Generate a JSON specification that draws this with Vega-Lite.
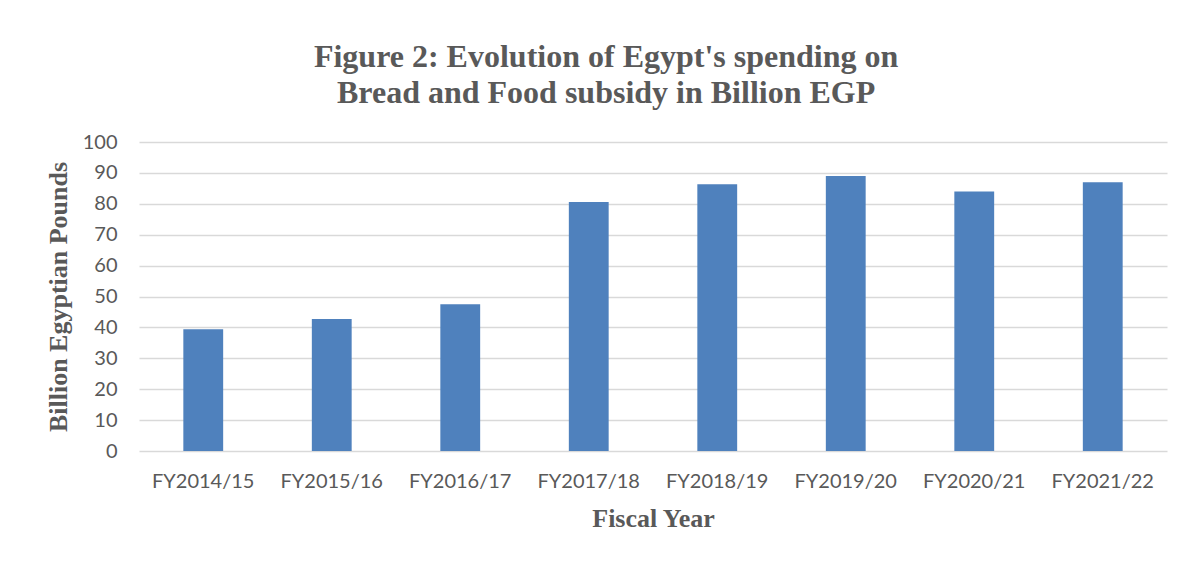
{
  "$schema": "https://vega.github.io/schema/vega-lite/v6.json",
  "width": 1028,
  "height": 309,
  "padding": {"left": 45, "top": 41, "right": 18, "bottom": 10},
  "background": "#ffffff",
  "title": {
    "text": ["Figure 2: Evolution of Egypt's spending on", "Bread and Food subsidy in Billion EGP"],
    "font": "Liberation Serif",
    "fontSize": 32,
    "fontWeight": "bold",
    "color": "#595959",
    "lineHeight": 36,
    "anchor": "middle",
    "frame": "bounds",
    "offset": 22
  },
  "data": {
    "values": [
      {"year": "FY2014/15", "value": 39.4},
      {"year": "FY2015/16", "value": 42.7},
      {"year": "FY2016/17", "value": 47.5},
      {"year": "FY2017/18", "value": 80.6},
      {"year": "FY2018/19", "value": 86.3},
      {"year": "FY2019/20", "value": 89.0},
      {"year": "FY2020/21", "value": 84.0},
      {"year": "FY2021/22", "value": 87.0}
    ]
  },
  "mark": {"type": "bar", "color": "#4F81BD"},
  "encoding": {
    "x": {
      "field": "year",
      "type": "nominal",
      "sort": null,
      "scale": {"paddingInner": 0.69, "paddingOuter": 0.345},
      "axis": {
        "title": "Fiscal Year",
        "titleFont": "Liberation Serif",
        "titleFontSize": 26,
        "titleFontWeight": "bold",
        "titleColor": "#595959",
        "titlePadding": 14,
        "labelFont": "Lato",
        "labelFontSize": 20,
        "labelColor": "#595959",
        "labelAngle": 0,
        "labelPadding": 20,
        "domain": false,
        "ticks": false
      }
    },
    "y": {
      "field": "value",
      "type": "quantitative",
      "scale": {"domain": [0, 100]},
      "axis": {
        "title": "Billion Egyptian Pounds",
        "titleFont": "Liberation Serif",
        "titleFontSize": 26,
        "titleFontWeight": "bold",
        "titleColor": "#595959",
        "titlePadding": 11,
        "labelFont": "Lato",
        "labelFontSize": 20,
        "labelColor": "#595959",
        "labelPadding": 22,
        "values": [0, 10, 20, 30, 40, 50, 60, 70, 80, 90, 100],
        "domain": false,
        "ticks": false,
        "grid": true,
        "gridColor": "#D9D9D9",
        "gridWidth": 1.5
      }
    }
  },
  "config": {
    "view": {"stroke": null}
  }
}
